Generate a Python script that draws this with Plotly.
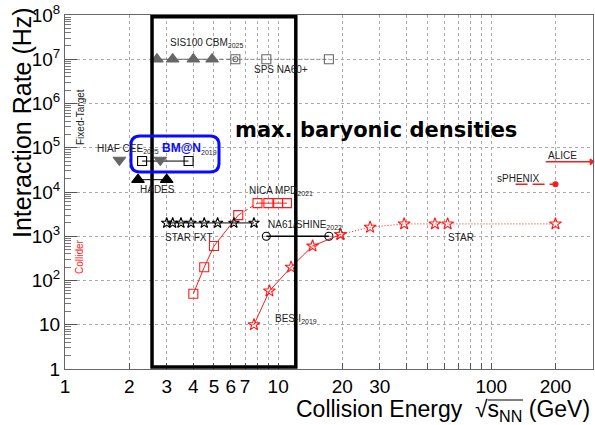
import numpy as np
import plotly.graph_objects as go

# ---------------- data ----------------
cbm_e = [2.7, 3.2, 4.0, 4.9]
cbm_r = [1e7, 1e7, 1e7, 1e7]
na60_e = [6.3, 8.8, 17.3]
na60_r = [1e7, 1e7, 1e7]
hiaf_e = [1.8, 2.8]
hiaf_r = [5.3e4, 5.3e4]
bmn_e = [2.3, 3.8]
bmn_r = [5e4, 5e4]
hades_e = [2.2, 3.0]
hades_r = [1.9e4, 1.9e4]
nica_e = [4.0, 4.5, 5.0, 6.5]
nica_r = [50, 200, 600, 3000]
nica2_e = [8.0, 9.0, 10.0, 11.0]
nica2_r = [5600, 5600, 5600, 5600]
fxt_e = [3.0, 3.2, 3.5, 3.9, 4.5, 5.2, 6.2, 7.7]
fxt_r = [2000, 2000, 2000, 2000, 2000, 2000, 2000, 2000]
na61_e = [8.8, 17.3]
na61_r = [1000, 1000]
bes_e = [7.7, 9.1, 11.5, 14.5, 19.6]
bes_r = [10, 58, 200, 600, 1100]
star_e = [19.6, 27, 39, 54.4, 62.4, 200]
star_r = [1100, 1600, 1900, 1900, 1900, 1900]
alice_e = [180, 295]
alice_r = [4.8e4, 4.8e4]
sphenix_e = [130, 200]
sphenix_r = [1.5e4, 1.5e4]
box_e = [2.56, 12.1]

x_tickvals = [1, 2, 3, 4, 5, 6, 7, 8, 9, 10, 20, 30, 40, 50, 60, 70, 80, 90, 100, 200]
x_ticktext = ["1", "2", "3", "4", "5", "6", "7", "", "", "10", "20", "30", "", "", "", "", "", "", "100", "200"]
y_tickvals = [1, 1e1, 1e2, 1e3, 1e4, 1e5, 1e6, 1e7, 1e8]
y_ticktext = ["1", "10", "10<sup>2</sup>", "10<sup>3</sup>", "10<sup>4</sup>", "10<sup>5</sup>",
              "10<sup>6</sup>", "10<sup>7</sup>", "10<sup>8</sup>"]

RED = "#ff1a1a"
GRAY = "#666666"
FONT = "Liberation Sans, Arial, sans-serif"

fig = go.Figure()

def add(x, y, mode, color, symbol=None, size=9, dash="solid", width=1.0, mcolor=None):
    fig.add_trace(go.Scatter(
        x=x, y=y, mode=mode,
        line=dict(color=color, width=width, dash=dash),
        marker=dict(symbol=symbol, size=size, color=mcolor or color,
                    line=dict(color=mcolor or color, width=1.1)),
        showlegend=False, cliponaxis=False, hoverinfo="skip"))

# CBM / NA60+
add([cbm_e[-1], na60_e[0]], [cbm_r[-1], na60_r[0]], "lines", GRAY, dash="4px,3px")
add(cbm_e, cbm_r, "lines+markers", GRAY, "triangle-up", 11)
add(na60_e, na60_r, "lines+markers", GRAY, "square-open", 9, dash="1px,2px")
add([na60_e[0]], [na60_r[0]], "markers", GRAY, "circle-open", 5)
# HIAF / BM@N / HADES
add(bmn_e, bmn_r, "lines+markers", "black", "square-open", 9)
add(hiaf_e, hiaf_r, "markers", GRAY, "triangle-down", 11)
add(hades_e, hades_r, "lines+markers", "black", "triangle-up", 11)
# NICA
add(nica_e, nica_r, "lines+markers", RED, "square-open", 9)
add([nica_e[-1], nica2_e[0]], [nica_r[-1], nica2_r[0]], "lines", RED, dash="4px,3px")
add(nica2_e, nica2_r, "lines+markers", RED, "square-open", 9)
# STAR FXT
add(fxt_e, fxt_r, "lines+markers", "black", "star-open", 8)
# NA61
add(na61_e, na61_r, "lines+markers", "black", "circle-open", 8, width=1.4)
# STAR BES
add(bes_e, bes_r, "lines+markers", RED, "star-open", 9)
add(star_e, star_r, "lines+markers", RED, "star-open", 9, dash="1px,2px", width=1)
# ALICE / sPHENIX
add(alice_e, alice_r, "lines", RED, width=1.5)
add([alice_e[-1]], [alice_r[-1]], "markers", RED, "triangle-right", 5)
add(sphenix_e, sphenix_r, "lines", RED, dash="12px,5px", width=1.5)
add([sphenix_e[-1]], [sphenix_r[-1]], "markers", RED, "circle", 5)

# black box
fig.add_shape(type="rect", xref="x", yref="paper", x0=box_e[0], x1=box_e[1], y0=0.006, y1=0.995,
              line=dict(color="black", width=3.5), layer="above")

def PX(x):
    return (x - 65) / 528.0

def PY(y):
    return (369 - y) / 354.0

# blue rounded box (paper coords)
x0, x1, y0, y1 = PX(131), PX(219), PY(172), PY(136)
rx, ry = 9 / 528.0, 9 / 354.0
path = (f"M {x0+rx},{y1} L {x1-rx},{y1} Q {x1},{y1} {x1},{y1-ry} L {x1},{y0+ry} "
        f"Q {x1},{y0} {x1-rx},{y0} L {x0+rx},{y0} Q {x0},{y0} {x0},{y0+ry} "
        f"L {x0},{y1-ry} Q {x0},{y1} {x0+rx},{y1} Z")
fig.add_shape(type="path", xref="paper", yref="paper", path=path,
              line=dict(color="#0a0aff", width=3), layer="above")

def label(text, x, y, size=10, color="#222", xanchor="left", angle=0, family=FONT):
    fig.add_annotation(text=text, x=PX(x), y=PY(y), xref="paper", yref="paper",
                       xanchor=xanchor, yanchor="middle", showarrow=False, textangle=angle,
                       font=dict(size=size, color=color, family=family))

sub = "<span style='font-size:7px'>%s</span>"
label("SIS100 CBM" + "<sub>" + sub % "2025" + "</sub>", 168, 43)
label("SPS NA60+", 252, 70)
label("HIAF CEE" + "<sub>" + sub % "2025" + "</sub>", 95, 149)
label("<b>BM@N</b>" + "<sub><span style='font-size:7px;color:#222'>2019</span></sub>", 160, 149,
      size=12, color="#0a0aff")
label("HADES", 138, 189)
label("NICA MPD" + "<sub>" + sub % "2021" + "</sub>", 247, 191)
label("STAR FXT", 163, 237)
label("NA61/SHINE" + "<sub>" + sub % "2022" + "</sub>", 266, 225)
label("BES-I" + "<sub>" + sub % "2019" + "</sub>", 273, 319)
label("STAR", 446, 237)
label("ALICE", 546, 155)
label("sPHENIX", 495, 178)
label("Fixed-Target", 80, 117, size=10, xanchor="center", angle=-90)
label("Collider", 79, 257, size=10, color=RED, xanchor="center", angle=-90)
label("<b>max. baryonic densities</b>", 233, 130, size=21, color="black",
      family="DejaVu Sans, sans-serif")
label("Interaction Rate (Hz)", 22, 123, size=25, color="black", xanchor="center", angle=-90)
label("Collision Energy  √s<sub>NN</sub> (GeV)", 592, 410, size=23, color="black", xanchor="right")
# overline of the square root
fig.add_shape(type="line", xref="paper", yref="paper", x0=PX(488), x1=PX(523), y0=PY(400), y1=PY(400),
              line=dict(color="black", width=1))

fig.update_layout(
    width=595, height=425,
    margin=dict(l=65, r=2, t=15, b=56),
    paper_bgcolor="white", plot_bgcolor="white",
    font=dict(family=FONT, color="black"),
    xaxis=dict(type="log", range=[0, np.log10(300)], tickvals=x_tickvals, ticktext=x_ticktext,
               ticks="inside", ticklen=6, tickcolor="#555", showline=True, mirror=True,
               linecolor="#666", linewidth=1, showgrid=True, gridcolor="#aaaaaa",
               griddash="dot", gridwidth=1, tickfont=dict(size=19), zeroline=False,
               ticklabelstandoff=0),
    yaxis=dict(type="log", range=[0, 8], tickvals=y_tickvals, ticktext=y_ticktext,
               ticks="inside", ticklen=12, tickcolor="#555", showline=True, mirror=True,
               linecolor="#666", linewidth=1, showgrid=True, gridcolor="#aaaaaa",
               griddash="dot", gridwidth=1, tickfont=dict(size=19), zeroline=False,
               minor=dict(ticks="inside", ticklen=6, tickcolor="#777", showgrid=False,
                          tickvals=[m * 10 ** d for d in range(8) for m in range(2, 10)])),
)

fig.write_html("out.html")
